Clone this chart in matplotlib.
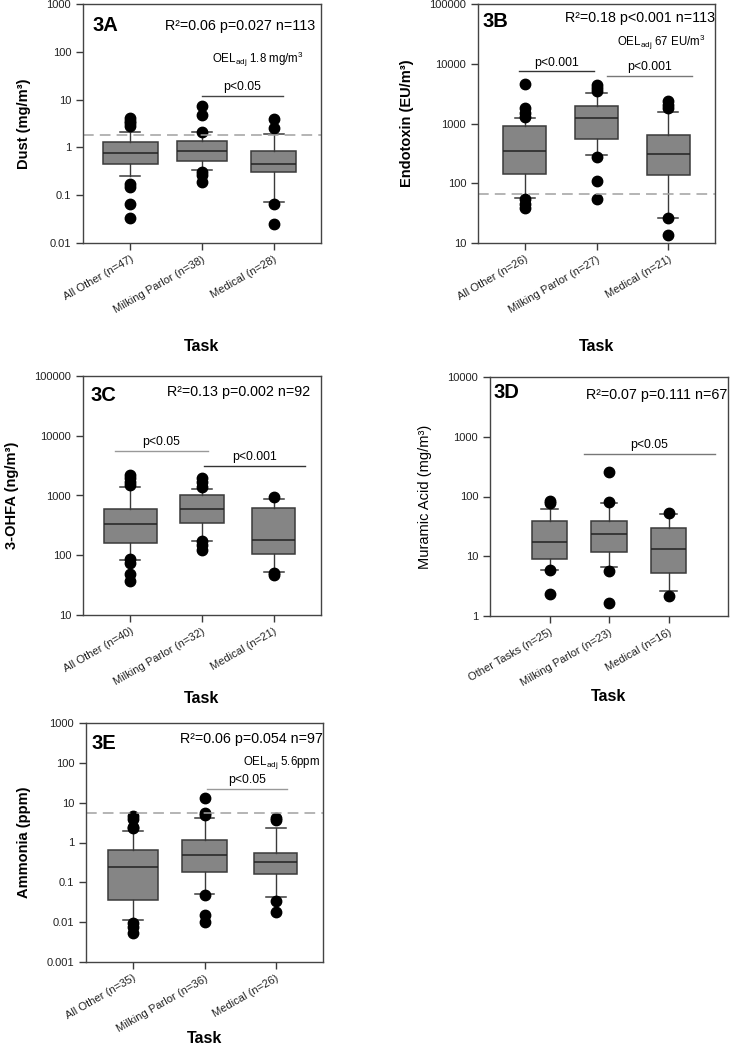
import matplotlib
matplotlib.use('Agg')
import matplotlib.pyplot as plt

plt.rcParams['font.family'] = ['Liberation Sans', 'DejaVu Sans']
plt.rcParams['mathtext.fontset'] = 'custom'
plt.rcParams['mathtext.rm'] = 'Liberation Sans'
plt.rcParams['mathtext.it'] = 'Liberation Sans'

# ---- data (q1, median, q3, whiskers, outliers) ----
a_labels = ['All Other (n=47)', 'Milking Parlor (n=38)', 'Medical (n=28)']
a_q1 = [0.46, 0.52, 0.30]
a_med = [0.77, 0.85, 0.46]
a_q3 = [1.3, 1.35, 0.83]
a_lo = [0.25, 0.33, 0.072]
a_hi = [2.05, 2.05, 1.9]
a_out = [[4.1, 3.6, 3.2, 2.8, 0.17, 0.15, 0.066, 0.033],
         [7.2, 4.7, 2.1, 0.31, 0.27, 0.19],
         [3.9, 2.5, 0.067, 0.025]]

b_labels = ['All Other (n=26)', 'Milking Parlor (n=27)', 'Medical (n=21)']
b_q1 = [143, 560, 138]
b_med = [352, 1230, 306]
b_q3 = [914, 1950, 630]
b_lo = [57, 295, 26.6]
b_hi = [1245, 3220, 1585]
b_out = [[4500, 1800, 1500, 1300, 55, 45, 38],
         [4400, 3900, 3500, 280, 108, 55],
         [2350, 2050, 1800, 26, 13.4]]

c_labels = ['All Other (n=40)', 'Milking Parlor (n=32)', 'Medical (n=21)']
c_q1 = [159, 352, 106]
c_med = [334, 588, 178]
c_q3 = [596, 1019, 611]
c_lo = [84, 174, 51.5]
c_hi = [1404, 1285, 885]
c_out = [[2200, 1950, 1700, 1500, 85, 75, 48, 36.5],
         [2000, 1700, 1370, 170, 146, 124],
         [960, 50, 47]]

d_labels = ['Other Tasks (n=25)', 'Milking Parlor (n=23)', 'Medical (n=16)']
d_q1 = [9.0, 11.8, 5.25]
d_med = [17.3, 23.6, 13.2]
d_q3 = [38.4, 38.4, 29.7]
d_lo = [5.96, 6.5, 2.59]
d_hi = [62.5, 79, 51.6]
d_out = [[85, 78, 6.0, 2.37],
         [257, 82, 5.76, 1.67],
         [53.7, 2.13]]

e_labels = ['All Other (n=35)', 'Milking Parlor (n=36)', 'Medical (n=26)']
e_q1 = [0.035, 0.177, 0.158]
e_med = [0.246, 0.494, 0.317]
e_q3 = [0.635, 1.13, 0.533]
e_lo = [0.0112, 0.0496, 0.0417]
e_hi = [1.95, 4.06, 2.36]
e_out = [[4.5, 3.8, 2.5, 2.3, 0.0095, 0.0075, 0.0055],
         [12.9, 5.4, 4.8, 0.048, 0.015, 0.0102],
         [4.2, 3.6, 0.0336, 0.0175]]

BOX_FACE = '#858585'
EDGE = '#3a3a3a'


def fmt(v):
    return ('%f' % v).rstrip('0').rstrip('.')


def draw(ax, labels, q1, med, q3, lo, hi, out, ylim, ylabel, tag, stats_txt,
         widths, xlim=(0.34, 3.66), oel=None, oel_txt=None, oel_pos=None,
         plines=(), ylabel_bold=True, task_y=-0.40, tag_pos=(0.04, 0.91),
         stats_pos=(0.975, 0.91)):
    bstats = []
    for i in range(len(labels)):
        bstats.append(dict(med=med[i], q1=q1[i], q3=q3[i], whislo=lo[i],
                           whishi=hi[i], fliers=out[i], label=labels[i]))
    pos = list(range(1, len(labels) + 1))
    ax.bxp(bstats, positions=pos, widths=widths, capwidths=0.28,
           patch_artist=True, showfliers=True,
           boxprops=dict(facecolor=BOX_FACE, edgecolor=EDGE, linewidth=1.1),
           medianprops=dict(color='#222222', linewidth=1.1),
           whiskerprops=dict(color=EDGE, linewidth=1.0),
           capprops=dict(color=EDGE, linewidth=1.1),
           flierprops=dict(marker='o', markerfacecolor='black',
                           markeredgecolor='black', markersize=7.5))
    ax.set_yscale('log')
    ax.set_ylim(*ylim)
    ax.set_xlim(*xlim)
    ticks = []
    t = ylim[0]
    while t <= ylim[1] * 1.0001:
        ticks.append(t)
        t *= 10
    ax.set_yticks(ticks, [fmt(v) for v in ticks])
    ax.minorticks_off()
    ax.set_xticks(pos, labels, rotation=30, ha='right', rotation_mode='anchor')
    ax.tick_params(axis='both', direction='out', length=5, width=1,
                   color=EDGE, labelsize=8, labelcolor='#222222')
    ax.tick_params(axis='x', pad=3)
    for s in ax.spines.values():
        s.set_color('#444444')
        s.set_linewidth(1.0)
    ax.set_ylabel(ylabel, fontsize=10.5, labelpad=11,
                  fontweight='bold' if ylabel_bold else 'normal')
    ax.set_xlabel('Task', fontsize=11.5, fontweight='bold')
    ax.xaxis.set_label_coords(0.5, task_y)
    ax.text(tag_pos[0], tag_pos[1], tag, transform=ax.transAxes,
            fontsize=14.5, fontweight='bold', va='center', ha='left')
    ax.text(stats_pos[0], stats_pos[1], stats_txt, transform=ax.transAxes,
            fontsize=10.3, va='center', ha='right')
    if oel is not None:
        ax.axhline(oel, color='#a0a0a0', linestyle=(0, (7, 4)), linewidth=1.1)
        ax.text(oel_pos[0], oel_pos[1], oel_txt, transform=ax.transAxes,
                fontsize=8.3, va='center', ha='right')
    for x0, x1, y, txt, col in plines:
        ax.plot([x0, x1], [y, y], color=col, linewidth=1.0)
        ax.annotate(txt, xy=((x0 + x1) / 2, y), xytext=(0, 2),
                    textcoords='offset points', ha='center', va='bottom',
                    fontsize=8.8)


W, H = 730, 1050
fig = plt.figure(figsize=(W / 100, H / 100), dpi=100)


def rect(x0, x1, y0, y1):
    return [x0 / W, 1 - y1 / H, (x1 - x0) / W, (y1 - y0) / H]


axA = fig.add_axes(rect(83, 321, 4, 243))
draw(axA, a_labels, a_q1, a_med, a_q3, a_lo, a_hi, a_out, (0.01, 1000),
     'Dust (mg/m³)', '3A', 'R²=0.06 p=0.027 n=113', [0.76, 0.7, 0.63],
     oel=1.8, oel_txt=r'OEL$_{\mathrm{adj}}$ 1.8 mg/m$^{3}$',
     oel_pos=(0.925, 0.77),
     plines=[(2.0, 3.13, 11.8, 'p<0.05', '#444444')],
     task_y=-0.40, tag_pos=(0.04, 0.91), stats_pos=(0.975, 0.91))

axB = fig.add_axes(rect(478, 715, 4, 243))
draw(axB, b_labels, b_q1, b_med, b_q3, b_lo, b_hi, b_out, (10, 100000),
     'Endotoxin (EU/m³)', '3B', 'R²=0.18 p<0.001 n=113', [0.6, 0.61, 0.6],
     xlim=(0.35, 3.65),
     oel=67, oel_txt=r'OEL$_{\mathrm{adj}}$ 67 EU/m$^{3}$',
     oel_pos=(0.96, 0.84),
     plines=[(0.92, 1.97, 7450, 'p<0.001', '#333333'),
             (2.15, 3.33, 6300, 'p<0.001', '#777777')],
     task_y=-0.40, tag_pos=(0.02, 0.925), stats_pos=(1.0, 0.94))

axC = fig.add_axes(rect(83, 321, 376, 615))
draw(axC, c_labels, c_q1, c_med, c_q3, c_lo, c_hi, c_out, (10, 100000),
     '3-OHFA (ng/m³)', '3C', 'R²=0.13 p=0.002 n=92', [0.74, 0.62, 0.6],
     plines=[(0.78, 2.08, 5600, 'p<0.05', '#999999'),
             (2.03, 3.43, 3150, 'p<0.001', '#333333')],
     task_y=-0.32, tag_pos=(0.03, 0.92), stats_pos=(0.955, 0.933))

axD = fig.add_axes(rect(490, 728, 377, 616))
draw(axD, d_labels, d_q1, d_med, d_q3, d_lo, d_hi, d_out, (1, 10000),
     'Muramic Acid (mg/m³)', '3D', 'R²=0.07 p=0.111 n=67', [0.6, 0.6, 0.6],
     xlim=(0, 4),
     plines=[(1.58, 3.78, 514, 'p<0.05', '#777777')],
     ylabel_bold=False, task_y=-0.305, tag_pos=(0.013, 0.937),
     stats_pos=(0.996, 0.925))

axE = fig.add_axes(rect(86, 323, 723, 962))
draw(axE, e_labels, e_q1, e_med, e_q3, e_lo, e_hi, e_out, (0.001, 1000),
     'Ammonia (ppm)', '3E', 'R²=0.06 p=0.054 n=97', [0.71, 0.62, 0.6],
     oel=5.6, oel_txt=r'OEL$_{\mathrm{adj}}$ 5.6ppm',
     oel_pos=(0.987, 0.833),
     plines=[(2.04, 3.15, 22.6, 'p<0.05', '#999999')],
     task_y=-0.29, tag_pos=(0.025, 0.916), stats_pos=(1.0, 0.933))

fig.savefig('out.png', dpi=100)
